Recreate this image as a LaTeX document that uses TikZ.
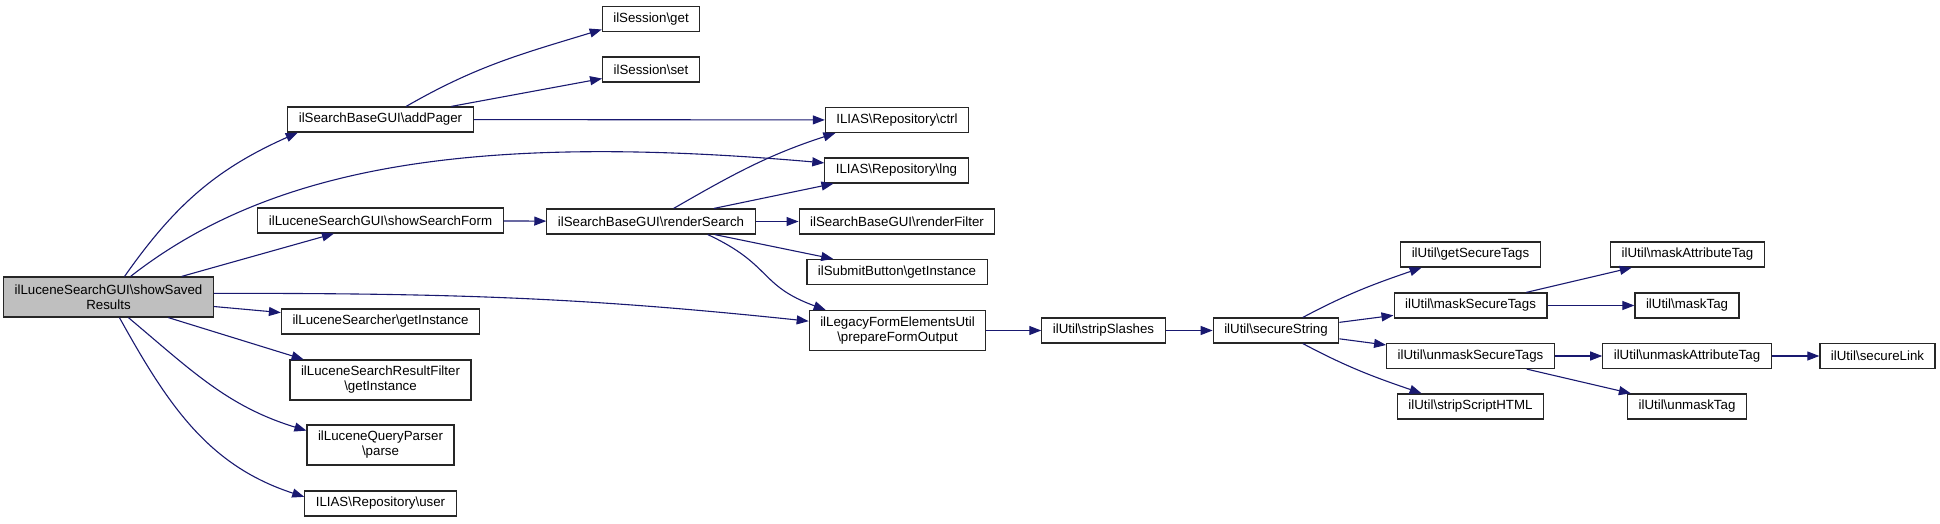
\documentclass[tikz,border=0pt]{standalone}
\usepackage{fontspec}
\setmainfont{Liberation Sans}
\usetikzlibrary{arrows.meta}
\definecolor{callblue}{HTML}{191970}
\definecolor{rootgray}{HTML}{BFBFBF}

\begin{document}
\begin{tikzpicture}
	[x=1pt,y=1pt,-{Triangle[length=12pt,width=9pt]},callblue,line width=1.1pt,
	every node/.style={shape=rectangle,draw=black!85,text=black,line width=1.2pt,
		inner xsep=11pt,inner ysep=4pt,minimum height=25pt,align=center,
		font=\fontsize{13.3}{15}\selectfont}]
	\useasboundingbox (0,0) rectangle (1940,-524);
	\node[fill=rootgray,minimum height=40pt] (root) at (108.5,-297) {ilLuceneSearchGUI\textbackslash showSaved\\Results};
	\node (pager) at (380.5,-119.5) {ilSearchBaseGUI\textbackslash addPager};
	\node (form) at (380.5,-220.5) {ilLuceneSearchGUI\textbackslash showSearchForm};
	\node (searcher) at (380.5,-321.5) {ilLuceneSearcher\textbackslash getInstance};
	\node[minimum height=40pt] (rfilt) at (380.5,-380) {ilLuceneSearchResultFilter\\\textbackslash getInstance};
	\node[minimum height=40pt] (parser) at (380.5,-445) {ilLuceneQueryParser\\\textbackslash parse};
	\node (user) at (380.5,-503.5) {ILIAS\textbackslash Repository\textbackslash user};
	
	\node (sget) at (651,-19) {ilSession\textbackslash get};
	\node (sset) at (651,-69.5) {ilSession\textbackslash set};
	\node (rsearch) at (651,-221.5) {ilSearchBaseGUI\textbackslash renderSearch};
	
	\node (ctrl) at (897,-120) {ILIAS\textbackslash Repository\textbackslash ctrl};
	\node (lng) at (896.5,-170.5) {ILIAS\textbackslash Repository\textbackslash lng};
	\node (rfilter) at (897,-221.5) {ilSearchBaseGUI\textbackslash renderFilter};
	\node (submit) at (897,-272) {ilSubmitButton\textbackslash getInstance};
	\node[minimum height=40pt] (prep) at (897.5,-330.5) {ilLegacyFormElementsUtil\\\textbackslash prepareFormOutput};
	
	\node (slashes) at (1103.5,-330.5) {ilUtil\textbackslash stripSlashes};
	\node (secure) at (1276,-330.5) {ilUtil\textbackslash secureString};
	\node (gettags) at (1470.5,-254.5) {ilUtil\textbackslash getSecureTags};
	\node (masktags) at (1470.5,-305.5) {ilUtil\textbackslash maskSecureTags};
	\node (unmasktags) at (1470.5,-356) {ilUtil\textbackslash unmaskSecureTags};
	\node (striphtml) at (1470.5,-406.5) {ilUtil\textbackslash stripScriptHTML};
	\node (maskattr) at (1687.5,-254.5) {ilUtil\textbackslash maskAttributeTag};
	\node (masktag) at (1687,-305.5) {ilUtil\textbackslash maskTag};
	\node (unmaskattr) at (1687,-356) {ilUtil\textbackslash unmaskAttributeTag};
	\node (unmasktag) at (1687,-406.5) {ilUtil\textbackslash unmaskTag};
	\node (link) at (1877.5,-356) {ilUtil\textbackslash secureLink};
	
	\path
	\foreach \startNode/\endNode in {root/form,root/searcher,root.-19/rfilt.165,
		pager/sset,pager/ctrl,form/rsearch,rsearch/lng,rsearch/rfilter,rsearch/submit,
		prep/slashes,slashes/secure,secure/masktags,secure/unmasktags,
		masktags/maskattr,masktags/masktag,unmasktags/unmaskattr,
		unmasktags/unmasktag,unmaskattr/link}
	{
		(\startNode) edge (\endNode)
	};
	\draw (root.52) to[out=55,in=204] (pager.189);
	\draw (root.43) to[out=38,in=175,out distance=180pt,in distance=350pt] (lng.174);
	\draw (root.2) to[out=0,in=174] (prep.174);
	\draw (root.-46) to[out=-40,in=163] (parser.169);
	\draw (root.-62) to[out=-61,in=162] (user.175);
	\draw (pager.27) to[out=30,in=197] (sget.192);
	\draw (rsearch.30) to[out=30,in=198] (ctrl.192);
	\draw (rsearch.-13) to[out=-25,in=160,looseness=1.3] (prep.164);
	\draw (secure.26) to[out=28,in=199] (gettags.195);
	\draw (secure.-26) to[out=-28,in=161] (striphtml.165);
\end{tikzpicture}
\end{document}
